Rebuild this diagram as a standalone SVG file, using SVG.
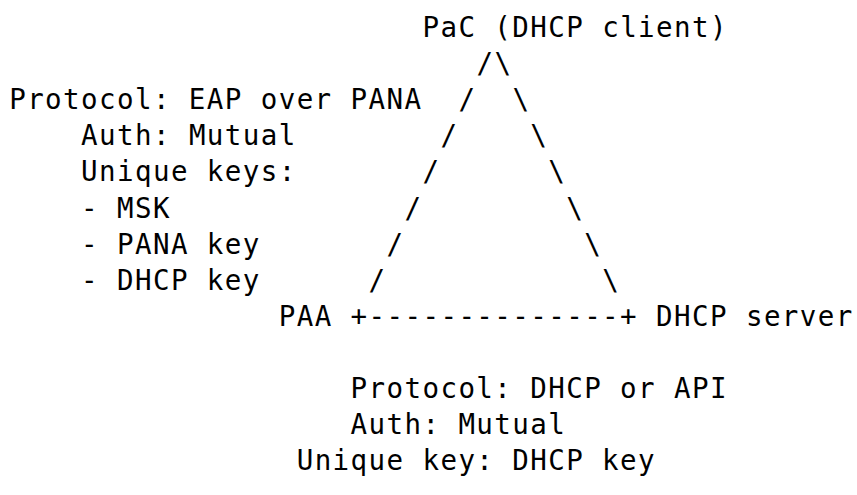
<svg xmlns="http://www.w3.org/2000/svg" width="857" height="495" viewBox="0 0 857 495">
<style>
text { font-family: "DejaVu Sans Mono", "Liberation Mono", monospace; font-size: 27.5px; letter-spacing: 1.41px; fill: #000; white-space: pre; }
</style>
<rect width="857" height="495" fill="#fff"/>
<g id="connectors">
<text x="476.4" y="73.1">/</text><text x="494.4" y="73.1">\</text>
<text x="458.5" y="109.2">/</text><text x="512.4" y="109.2">\</text>
<text x="440.5" y="145.3">/</text><text x="530.3" y="145.3">\</text>
<text x="422.5" y="181.4">/</text><text x="548.3" y="181.4">\</text>
<text x="404.5" y="217.5">/</text><text x="566.3" y="217.5">\</text>
<text x="386.6" y="253.6">/</text><text x="584.2" y="253.6">\</text>
<text x="368.6" y="289.7">/</text><text x="602.2" y="289.7">\</text>
<text x="350.6" y="325.8">+--------------+</text>
</g>
<g id="pac"><text x="422.5" y="37">PaC (DHCP client)</text></g>
<g id="paa"><text x="278.8" y="325.8">PAA</text></g>
<g id="dhcp-server"><text x="656.1" y="325.8">DHCP server</text></g>
<g id="pana-label">
<text x="9.2" y="109.2">Protocol: EAP over PANA</text>
<text x="81.1" y="145.3">Auth: Mutual</text>
<text x="81.1" y="181.4">Unique keys:</text>
<text x="81.1" y="217.5">- MSK</text>
<text x="81.1" y="253.6">- PANA key</text>
<text x="81.1" y="289.7">- DHCP key</text>
</g>
<g id="dhcp-label">
<text x="350.6" y="398">Protocol: DHCP or API</text>
<text x="350.6" y="434.1">Auth: Mutual</text>
<text x="296.7" y="470.2">Unique key: DHCP key</text>
</g>
</svg>
